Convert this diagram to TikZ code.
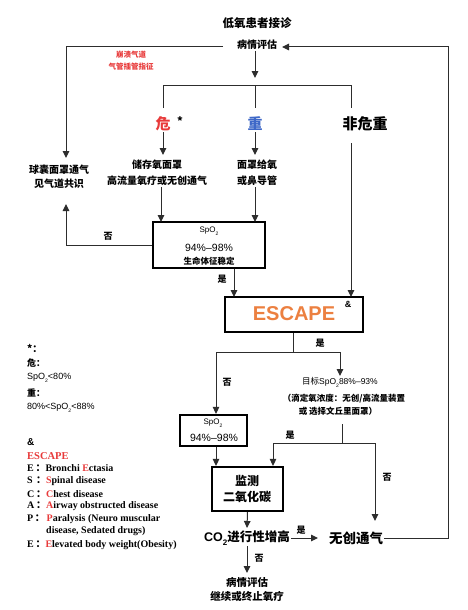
\documentclass[tikz,border=0pt]{standalone}
\usepackage{fontspec}
\usepackage{graphicx}
\setmainfont{Noto Sans CJK SC}
\newfontfamily\lat{Liberation Sans}
\newfontfamily\ser{Liberation Serif}
\usetikzlibrary{arrows.meta}
\definecolor{cred}{RGB}{232,58,58}
\definecolor{cblue}{RGB}{62,104,200}
\definecolor{corange}{RGB}{236,128,64}
\definecolor{cline}{RGB}{45,45,45}
\newcommand\fs[1]{\fontsize{#1}{#1}\selectfont}
\newcommand\fsl[2]{\fontsize{#1}{#2}\selectfont}
\newcommand\subtwo{\raisebox{-0.35em}{\fs{5}2}}
\newcommand\cc{{\normalfont\bfseries ：}}
\begin{document}
\begin{tikzpicture}[x=1pt,y=-1pt,
  t/.style={inner sep=1pt, align=center, text=black},
  conn/.style={draw=cline, line width=1pt},
  arr/.style={conn, -{Triangle[length=7pt,width=6.5pt]}},
  box/.style={draw=black, line width=2.2pt, inner sep=0pt, fill=white},
  lab/.style={t, font=\bfseries\fs{9}},
  leg/.style={inner sep=0pt, anchor=west, font=\bfseries\fs{9}},
  legs/.style={inner sep=0pt, anchor=west, font=\ser\bfseries\fs{10}}
]
\useasboundingbox (0,0) rectangle (467,610);
\fill[white] (0,0) rectangle (467,610);

% top
\node[t,font=\bfseries\fs{11.5}] (title) at (257,23) {低氧患者接诊};
\node[t,font=\bfseries\fs{10}] (eval) at (257,45) {病情评估};
\node[t,font=\bfseries\fsl{7.5}{12},text=cred] (crash) at (131,61) {崩溃气道\\气管插管指征};

\coordinate (evL) at (223,47);
\coordinate (bagT) at (66,158);
\draw[arr] (evL) -| (bagT);

\coordinate (evD) at (255,78);
\draw[arr] (eval.south -| evD) -- (evD);

\coordinate (brL) at (163,85);
\coordinate (brM) at (255,85);
\coordinate (brR) at (351,85);
\coordinate (dL) at (163,108);
\coordinate (dM) at (255,108);
\coordinate (dR) at (351,108);
\draw[conn] (dL) -- (brL) -- (brR) -- (dR);
\draw[conn] (brM) -- (dM);

\node[t,font=\bfseries\fs{15},text=cred] (crit) at (163,124) {危};
\node[t,font=\bfseries\fs{11}] (star) at (180,121) {*};
\node[t,font=\bfseries\fs{15},text=cblue] (sev) at (255,124) {重};
\node[t,font=\bfseries\fs{15}] (noncrit) at (365,124) {非危重};

\coordinate (critA) at (163,155);
\coordinate (sevA) at (255,155);
\draw[arr] (crit.south) -- (critA);
\draw[arr] (sev.south) -- (sevA);

\node[t,font=\bfseries\fsl{10}{13.5}] (bag) at (59,177) {球囊面罩通气\\见气道共识};
\node[t,font=\bfseries\fsl{10}{16}] (store) at (157,173) {储存氧面罩\\高流量氧疗或无创通气};
\node[t,font=\bfseries\fsl{10}{16}] (mask) at (257,173) {面罩给氧\\或鼻导管};

% SpO2 box 1
\node[box, minimum width=112, minimum height=46] (b1) at (209,245) {};
\node[t,font=\lat\fs{8}] (b1s) at (209,231) {SpO\subtwo};
\node[t,font=\lat\fs{10.5}] (b1p) at (209,248) {94\%–98\%};
\node[t,font=\bfseries\fs{8.5}] (b1v) at (209,261) {生命体征稳定};

\coordinate (in1) at (161,222);
\coordinate (in2) at (255,222);
\draw[arr] (store.south -| in1) -- (in1);
\draw[arr] (mask.south -| in2) -- (in2);

\coordinate (bagB) at (66,204);
\draw[arr] (b1.west) -| (bagB);
\node[lab] (no1) at (108,236) {否};

% ESCAPE
\node[box, minimum width=138, minimum height=35] (esc) at (294,314.5) {};
\node[t,font=\lat\bfseries\fs{20},text=corange] (esct) at (294,314) {ESCAPE};
\node[t,font=\lat\bfseries\fs{9}] (amp) at (348,304) {\&};

\coordinate (escL) at (234,297);
\coordinate (escR) at (351,297);
\coordinate (ncS) at (351,143);
\draw[arr] (b1.south -| escL) -- (escL);
\draw[arr] (ncS) -- (escR);
\node[lab] (yes1) at (222,279) {是};

\coordinate (escD) at (293,352);
\coordinate (spL) at (216,352);
\coordinate (spR) at (340,352);
\coordinate (tgtT) at (340,376);
\draw[conn] (esc.south -| escD) -- (escD);
\draw[conn] (spL) -- (spR);
\draw[arr] (spR) -- (tgtT);
\node[lab] (yes2) at (320,343) {是};
\node[lab] (no2) at (227,382) {否};

% target text
\node[t,font=\fs{8.5}] (tgt1) at (340,382) {目标{\lat SpO\subtwo 88\%–93\%}};
\node[t,font=\bfseries\fs{8.5}] (tgt2) at (344,399) {（滴定氧浓度：无创/高流量装置};
\node[t,font=\bfseries\fs{8.5}] (tgt3) at (338,411) {或 选择文丘里面罩）};

% SpO2 box 2
\node[box, minimum width=67, minimum height=31] (b2) at (213.5,430.5) {};
\node[t,font=\lat\fs{8}] (b2s) at (213,423) {SpO\subtwo};
\node[t,font=\lat\fs{10.5}] (b2p) at (214,438) {94\%–98\%};
\draw[arr] (spL) -- (spL |- b2.north);

\coordinate (tgtB) at (342,424);
\coordinate (sp2) at (342,443);
\coordinate (sp2L) at (273,443);
\coordinate (sp2R) at (375,443);
\coordinate (nivT) at (375,521);
\draw[conn] (tgtB) -- (sp2);
\draw[conn] (sp2L) -- (sp2R);
\node[lab] (yes3) at (290,435) {是};
\node[lab] (no3) at (387,477) {否};

% monitor box
\node[box, minimum width=71, minimum height=44] (mon) at (247.5,489) {};
\node[t,font=\bfseries\fs{12}] (mon1) at (247,481) {监测};
\node[t,font=\bfseries\fs{12}] (mon2) at (247,497) {二氧化碳};
\draw[arr] (sp2L) -- (sp2L |- mon.north);
\draw[arr] (sp2R) -- (nivT);
\draw[arr] (spL |- b2.south) -- (spL |- mon.north);

% CO2
\node[t,font=\bfseries\fs{12.5}] (co2) at (247,538) {{\lat CO\raisebox{-0.3em}{\fs{8}2}}进行性增高};
\node[t,font=\bfseries\fs{13.5}] (niv) at (356,538) {无创通气};
\coordinate (mon2co) at (247,528);
\draw[arr] (mon.south) -- (mon2co);
\coordinate (nivW) at (318,538);
\draw[arr] (co2.east) -- (nivW);
\node[lab] (yes4) at (301,530) {是};

\coordinate (loopB) at (448,538);
\coordinate (loopT) at (448,47);
\coordinate (evR) at (282,47);
\draw[arr] (niv.east) -- (loopB) -- (loopT) -- (evR);

\node[t,font=\bfseries\fsl{10.5}{14}] (ev2) at (247,590) {病情评估\\继续或终止氧疗};
\coordinate (ev2T) at (247,573);
\draw[arr] (co2.south) -- (ev2T);
\node[lab] (no4) at (259,558) {否};

% legend
\node[leg,font=\bfseries\fs{10}] (l0) at (27,348) {*：};
\node[leg] (l1) at (27,363) {危：};
\node[leg,font=\lat\fs{9}] (l2) at (27,378) {SpO\subtwo<80\%};
\node[leg] (l3) at (27,393) {重：};
\node[leg,font=\lat\fs{9}] (l4) at (27,408) {80\%<SpO\subtwo<88\%};
\node[leg,font=\lat\bfseries\fs{10}] (l5) at (27,442) {\&};
\node[legs,text=cred,font=\ser\bfseries\fs{10.5}] (l6) at (27,456) {ESCAPE};
\node[legs] (l7) at (27,468) {E\,\cc Bronchi \textcolor{cred}{E}ctasia};
\node[legs] (l8) at (27,481) {S\,\,\cc\textcolor{cred}{S}pinal disease};
\node[legs] (l9) at (27,494) {C\,\cc\textcolor{cred}{C}hest disease};
\node[legs] (l10) at (27,506) {A\,\cc\textcolor{cred}{A}irway obstructed disease};
\node[legs] (l11) at (27,519) {P\,\cc\,\textcolor{cred}{P}aralysis (Neuro muscular};
\node[legs] (l12) at (46,531) {disease, Sedated drugs)};
\node[legs] (l13) at (27,545) {E\,\cc\textcolor{cred}{E}levated body weight(Obesity)};
\end{tikzpicture}
\end{document}
